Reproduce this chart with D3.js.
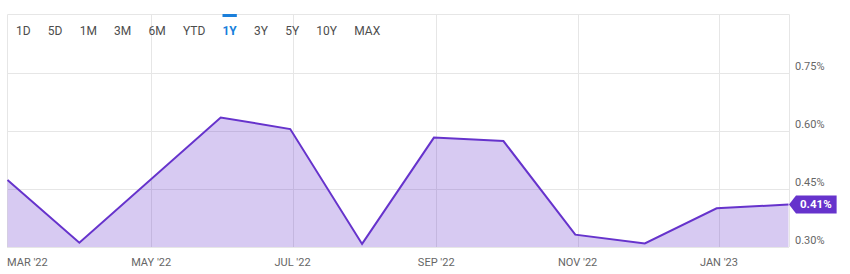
<!DOCTYPE html>
<html><head><meta charset="utf-8">
<script src="https://cdn.jsdelivr.net/npm/d3@7"></script>
<style>
html,body{margin:0;padding:0;background:#fff;}
svg{display:block;font-family:Roboto,"Noto Sans",sans-serif;}
</style></head>
<body>
<svg id="chart" width="850" height="274"></svg>
<script>
// ---- data ----
const dates = ["2022-02-28","2022-03-31","2022-05-31","2022-06-30","2022-07-31","2022-08-31","2022-09-30","2022-10-31","2022-11-30","2022-12-31","2023-01-31"];
const values = [0.473, 0.311, 0.635, 0.605, 0.308, 0.583, 0.574, 0.332, 0.309, 0.400, 0.41];
const yTicks = [0.30, 0.45, 0.60, 0.75];
const xTickDates = ["2022-03-01","2022-05-01","2022-07-01","2022-09-01","2022-11-01","2023-01-01"];
const xTickLabels = ["MAR '22","MAY '22","JUL '22","SEP '22","NOV '22","JAN '23"];
const rangeButtons = ["1D","5D","1M","3M","6M","YTD","1Y","3Y","5Y","10Y","MAX"];
const activeButton = "1Y";
const lastLabel = "0.41%";

(function(){
const parse = d3.timeParse("%Y-%m-%d");
const data = dates.map((d,i)=>({date:parse(d), value:values[i]}));

const svg = d3.select("#chart");
const pLeft = 7, pRight = 789, pTop = 14, pBottom = 247;

const x = d3.scaleTime().domain([parse("2022-02-28"), parse("2023-01-31")]).range([pLeft+0.5, pRight-0.5]);
const y = d3.scaleLinear().domain([0.30, 0.90]).range([pBottom, pTop+1]);

// gridlines
const grid = svg.append("g");
grid.selectAll("line.h").data(yTicks).join("line")
  .attr("x1", pLeft).attr("x2", pRight)
  .attr("y1", d=>Math.round(y(d))+0.5).attr("y2", d=>Math.round(y(d))+0.5)
  .attr("stroke", "#e6e6e6").attr("stroke-width", 1);
grid.selectAll("line.v").data(xTickDates.slice(1)).join("line")
  .attr("x1", d=>Math.round(x(parse(d)))+0.5).attr("x2", d=>Math.round(x(parse(d)))+0.5)
  .attr("y1", pTop).attr("y2", pBottom)
  .attr("stroke", "#e6e6e6").attr("stroke-width", 1);
// frame
svg.append("path")
  .attr("d", `M${pLeft+0.5},${pBottom}V${pTop+0.5}H${pRight+0.5}V${pBottom}`)
  .attr("fill","none").attr("stroke","#e6e6e6");

// area + line
const area = d3.area().x(d=>x(d.date)).y0(pBottom).y1(d=>y(d.value));
const line = d3.line().x(d=>x(d.date)).y(d=>y(d.value));
svg.append("path").datum(data).attr("d", area).attr("fill", "rgba(102,51,204,0.26)");
svg.append("path").datum(data).attr("d", line).attr("fill","none")
  .attr("stroke","#6633cc").attr("stroke-width",2).attr("stroke-linejoin","miter");

// y axis labels
svg.append("g").selectAll("text").data(yTicks).join("text")
  .attr("x", pRight+6).attr("y", d=>y(d)-3)
  .attr("font-size", "11px").attr("fill", "#666")
  .text(d=>d.toFixed(2)+"%");

// x axis labels
svg.append("g").selectAll("text").data(xTickDates).join("text")
  .attr("x", (d,i)=> i===0 ? pLeft : x(parse(d)))
  .attr("y", 266)
  .attr("text-anchor", (d,i)=> i===0 ? "start" : "middle")
  .attr("font-size", "11px").attr("fill", "#666")
  .text((d,i)=>xTickLabels[i]);

// last value tag
const last = data[data.length-1];
const ty = y(last.value);
const tx = x(last.date)+0.5;
const tg = svg.append("g");
const tagText = tg.append("text").attr("x", tx+11).attr("y", ty+4)
  .attr("font-size","11.5px").attr("font-weight","bold").attr("fill","#fff").text(lastLabel);
const tw = tagText.node().getComputedTextLength();
tg.insert("path","text")
  .attr("d", `M${tx},${ty}L${tx+7},${ty-9}H${tx+tw+16}V${ty+9}H${tx+7}Z`)
  .attr("fill","#6633cc");

// range buttons
const bg = svg.append("g");
let bx = 16;
rangeButtons.forEach(b=>{
  const t = bg.append("text").attr("x", bx).attr("y", 35)
    .attr("font-size","12px")
    .attr("fill", b===activeButton ? "#1a7fdb" : "#4d4d4d")
    .attr("font-weight", b===activeButton ? "bold" : "normal")
    .text(b);
  const w = t.node().getComputedTextLength();
  if (b===activeButton) {
    bg.append("rect").attr("x", bx).attr("y", pTop).attr("width", w).attr("height", 3).attr("fill","#1a7fdb");
  }
  bx += w + 17.2;
});
})();
</script>
</body></html>
